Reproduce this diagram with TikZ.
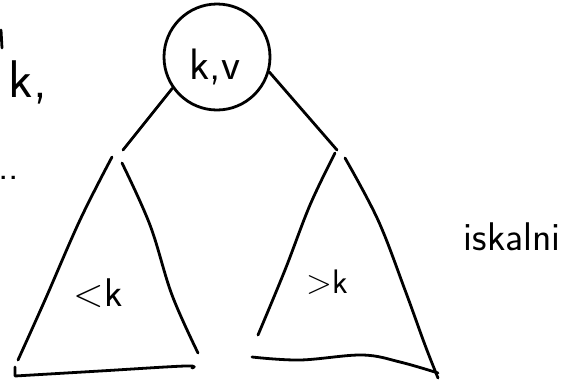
\documentclass[tikz,border=0pt]{standalone}
\usetikzlibrary{positioning}

\begin{document}
\begin{tikzpicture}[x=1pt, y=-1pt,
  pen/.style={line width=2.8pt, line cap=round, line join=round},
  hand/.style={font=\sffamily\fontsize{#1}{#1}\selectfont, inner sep=0pt},
  hand/.default=40,
]
  \useasboundingbox (0,0) rectangle (563,381);
  % root with key and value
  \node[pen, draw, circle, minimum size=106pt, inner sep=0pt] (root) at (217,57) {};
  \node[hand=44] (kv) at (215,67) {k,v};
  \coordinate (lapex) at (123,150);
  \coordinate (rapex) at (337,150);
  \draw[pen] (root.215) -- (lapex);
  \draw[pen] (root.-16) -- (rapex);
  % left subtree
  \draw[pen] plot[smooth, tension=0.6] coordinates {(112,157) (80,220) (45,300) (18,360)};
  \draw[pen] plot[smooth, tension=0.6] coordinates {(122,163) (150,225) (172,295) (198,353)};
  \draw[pen] (15,367) -- (15,376)
    plot[smooth, tension=0.6] coordinates {(15,376) (100,371) (185,366) (192,368)};
  \node[hand] (lt) at (98,293) {<k};
  % right subtree
  \draw[pen] plot[smooth, tension=0.6] coordinates {(335,153) (310,205) (285,270) (258,335)};
  \draw[pen] plot[smooth, tension=0.6] coordinates {(345,158) (378,220) (405,290) (425,345) (438,378)};
  \draw[pen] plot[smooth, tension=0.6] coordinates {(252,357) (300,360) (362,355) (400,362) (438,373)};
  \node[hand=34] (gt) at (327,282) {>k};
  % side notes
  \node[hand, anchor=base east] (isk) at (561,250) {iskalni};
  \node[hand=53] (kc) at (28,82) {k,};
  \node[hand] (dd) at (9,178) {..};
  \draw[pen] (1,30) -- (2,48);
\end{tikzpicture}
\end{document}
